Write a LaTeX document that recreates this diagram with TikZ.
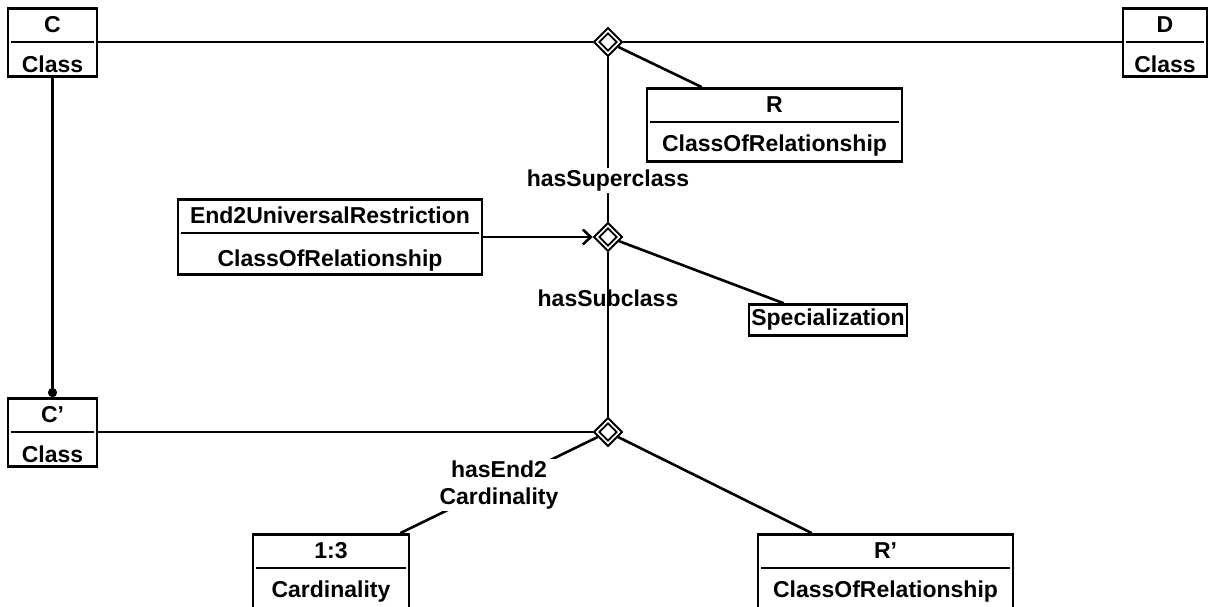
\documentclass[tikz,border=0pt]{standalone}
\usepackage{fontspec}
\setmainfont{Liberation Sans}
\usetikzlibrary{arrows,arrows.meta,shapes,backgrounds, positioning, shapes.geometric}
\newcommand{\uprule}{\rule[-6pt]{0pt}{27pt}}
\newcommand{\lowrule}{\rule[-1pt]{0pt}{28pt}}

\begin{document}
\begin{tikzpicture}[x=1pt, y=-1pt]
		\tikzset{cls/.style={rectangle split, rectangle split parts=2, rectangle split draw splits=false, draw, line width=2.6pt, inner xsep=0pt, inner ysep=2pt, align=center, anchor=text split, font=\fontsize{23}{27}\selectfont\bfseries}}
		\tikzset{single/.style={rectangle, draw, line width=2.6pt, inner xsep=0pt, inner ysep=2pt, align=center, font=\fontsize{23}{27}\selectfont\bfseries}}
		\tikzset{rel/.style={diamond, draw, line width=2pt, double, double distance=1.6pt, inner sep=0pt, minimum size=25pt, outer sep=2.8pt}}
		\tikzset{ln/.style={line width=2.6pt}}
		\tikzset{lbl/.style={font=\fontsize{23}{27}\selectfont\bfseries, inner sep=2pt, align=center}}
		\useasboundingbox (0,0) rectangle (1213,606);
		\node[cls, text width=89pt] at (52.5, 42) (c) {\uprule C\nodepart{two}\lowrule Class};
		\node[cls, text width=84pt] at (1165, 42) (d) {\uprule D\nodepart{two}\lowrule Class};
		\node[cls, text width=255pt] at (774.5, 122) (r) {\uprule R\nodepart{two}\rule[-7pt]{0pt}{33pt}ClassOfRelationship};
		\node[cls, text width=304pt] at (330, 233) (e2) {\uprule End2UniversalRestriction\nodepart{two}\rule[-2pt]{0pt}{32pt}ClassOfRelationship};
		\node[single, text width=158pt] at (828, 320) (spec) {\strut Specialization};
		\node[cls, text width=89pt] at (52.5, 432) (cp) {\uprule C’\nodepart{two}\lowrule Class};
		\node[cls, text width=156pt] at (331, 568) (card) {\uprule 1:3\nodepart{two}\rule{0pt}{26pt}Cardinality\rule[-20pt]{0pt}{0pt}};
		\node[cls, text width=255pt] at (885.5, 568) (rp) {\uprule R’\nodepart{two}\rule{0pt}{26pt}ClassOfRelationship\rule[-20pt]{0pt}{0pt}};
		\node[rel] at (608, 42) (top) {};
		\node[rel] at (608, 237) (mid) {};
		\node[rel] at (608, 432) (bot) {};
		% inset dividers
		\foreach \n in {c,d,r,e2,cp,card,rp}
			\draw[ln] ([xshift=4pt]\n.text split west) -- ([xshift=-4pt]\n.text split east);
		\draw[ln] (c.text split east) -- (top);
		\draw[ln] (top) -- (d.text split west);
		\draw[ln] (top) -- ([xshift=56pt]r.north west);
		\draw[ln] (top) -- node[lbl, fill=white, pos=0.75] (sup) {hasSuperclass} (mid);
		\draw[ln] (mid) -- node[lbl, pos=0.28] (sub) {hasSubclass} (bot);
		\draw[ln, -{Straight Barb[length=8pt, width=15pt]}] (e2.east |- mid) -- (mid);
		\draw[ln] (mid) -- (spec);
		\draw[ln] (cp.text split east) -- (bot);
		\draw[ln, -{Circle[length=9pt]}] (c.south) -- (cp.north);
		\draw[ln] (bot) -- node[lbl, fill=white] (end2) {hasEnd2\\Cardinality} ([xshift=-10pt]card.north east);
		\draw[ln] (bot) -- ([xshift=55pt]rp.north west);
	\end{tikzpicture}
\end{document}
